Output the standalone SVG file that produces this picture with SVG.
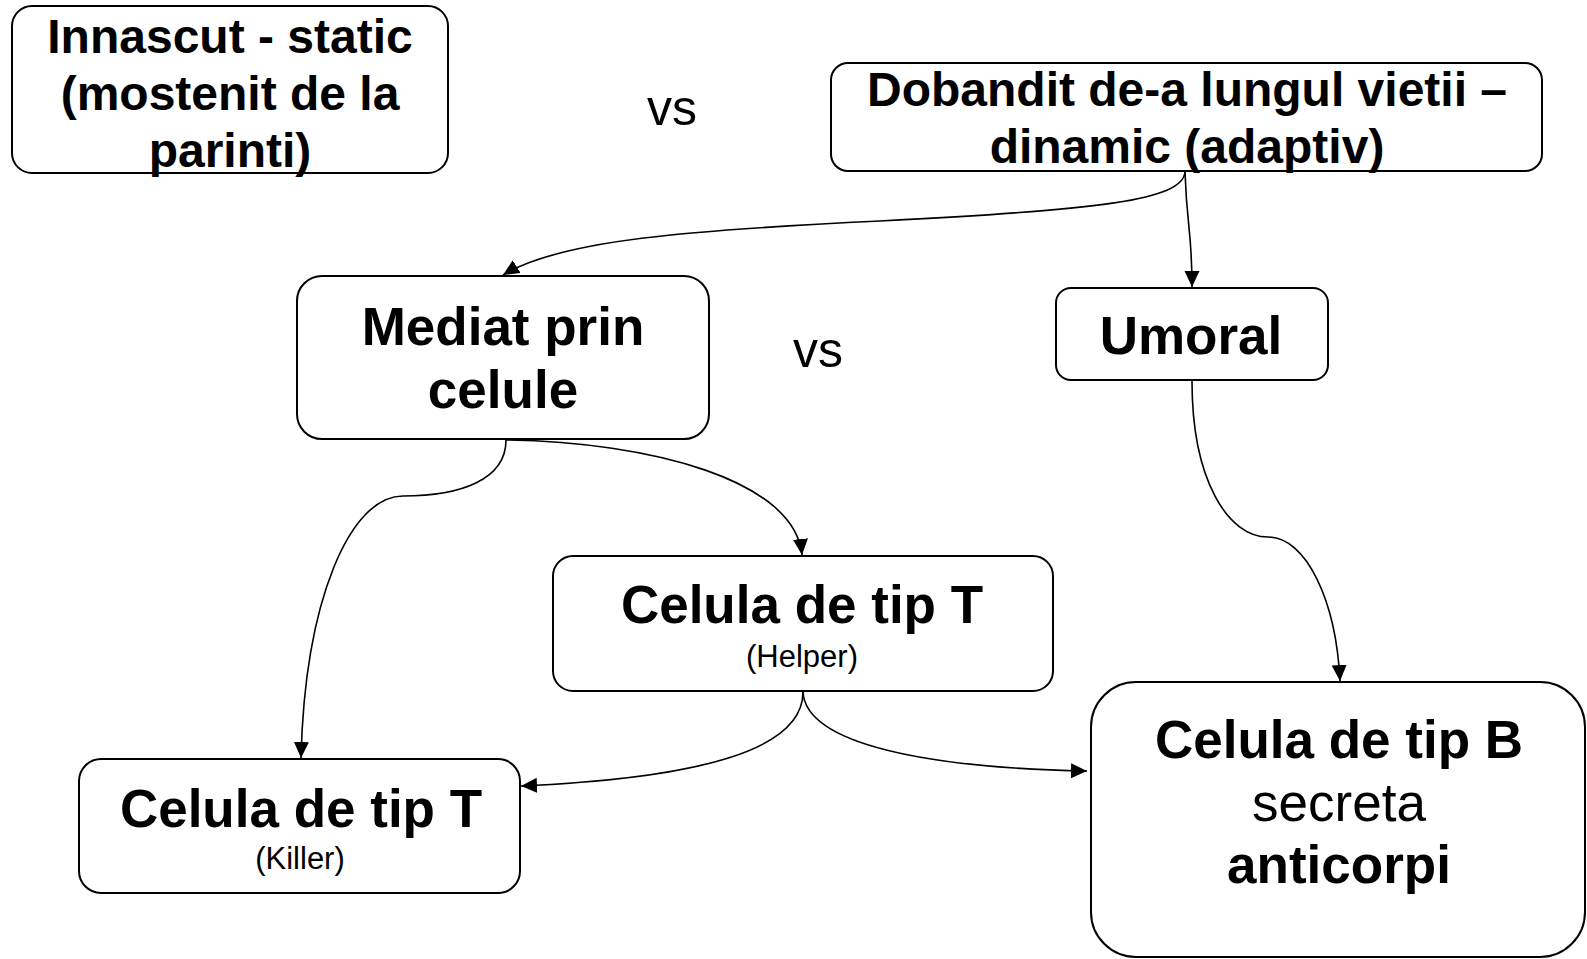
<svg xmlns="http://www.w3.org/2000/svg" width="1587" height="959" viewBox="0 0 1587 959">
  <style>
    .box { fill: #ffffff; stroke: #000000; stroke-width: 2; }
    .t { font-family: "Liberation Sans", Arial, sans-serif; fill: #000000; text-anchor: middle; }
    .b { font-weight: bold; }
    .conn { fill: none; stroke: #000000; stroke-width: 1.6; marker-end: url(#arrow); }
  </style>
  <defs>
    <marker id="arrow" markerUnits="userSpaceOnUse" markerWidth="18" markerHeight="16" refX="16" refY="7.5" orient="auto">
      <path d="M0,0 L16,7.5 L0,15 Z" fill="#000000"/>
    </marker>
  </defs>
  <rect width="1587" height="959" fill="#ffffff"/>

  <g id="connectors">
    <path class="conn" d="M1185,172 C1183,200 1100,210 880,221 C690,230 560,240 503,275"/>
    <path class="conn" d="M1185,172 C1187,230 1192,230 1192,287"/>
    <path class="conn" d="M506,440 C506,480 460,496 403,496 C350,496 305,600 301,758"/>
    <path class="conn" d="M506,440 C650,442 795,480 802,555"/>
    <path class="conn" d="M803,692 C803,750 700,778 521,786"/>
    <path class="conn" d="M803,692 C806,745 930,768 1087,771"/>
    <path class="conn" d="M1192,381 C1192,480 1228,537 1268,537 C1306,537 1336,600 1340,681"/>
  </g>

  <g id="node-innascut">
    <rect class="box" x="12" y="6" width="436" height="167" rx="20"/>
    <text class="t b" font-size="48" x="230" y="53">Innascut - static</text>
    <text class="t b" font-size="48" x="230" y="110">(mostenit de la</text>
    <text class="t b" font-size="48" x="230" y="167">parinti)</text>
  </g>

  <g id="label-vs1">
    <text class="t" font-size="50" x="672" y="125">vs</text>
  </g>

  <g id="node-dobandit">
    <rect class="box" x="831" y="63" width="711" height="108" rx="17"/>
    <text class="t b" font-size="48" x="1187" y="106">Dobandit de-a lungul vietii –</text>
    <text class="t b" font-size="48" x="1187" y="163">dinamic (adaptiv)</text>
  </g>

  <g id="node-mediat">
    <rect class="box" x="297" y="276" width="412" height="163" rx="25"/>
    <text class="t b" font-size="53" x="503" y="345">Mediat prin</text>
    <text class="t b" font-size="53" x="503" y="408">celule</text>
  </g>

  <g id="label-vs2">
    <text class="t" font-size="50" x="818" y="367">vs</text>
  </g>

  <g id="node-umoral">
    <rect class="box" x="1056" y="288" width="272" height="92" rx="15"/>
    <text class="t b" font-size="53" x="1191" y="354">Umoral</text>
  </g>

  <g id="node-helper">
    <rect class="box" x="553" y="556" width="500" height="135" rx="20"/>
    <text class="t b" font-size="53" x="802" y="623">Celula de tip T</text>
    <text class="t" font-size="31" x="802" y="667">(Helper)</text>
  </g>

  <g id="node-killer">
    <rect class="box" x="79" y="759" width="441" height="134" rx="22"/>
    <text class="t b" font-size="53" x="301" y="827">Celula de tip T</text>
    <text class="t" font-size="31" x="300" y="869">(Killer)</text>
  </g>

  <g id="node-celula-b">
    <rect class="box" x="1091" y="682" width="494" height="275" rx="45"/>
    <text class="t b" font-size="53" x="1339" y="758">Celula de tip B</text>
    <text class="t" font-size="53" x="1339" y="821">secreta</text>
    <text class="t b" font-size="53" x="1339" y="883">anticorpi</text>
  </g>
</svg>
